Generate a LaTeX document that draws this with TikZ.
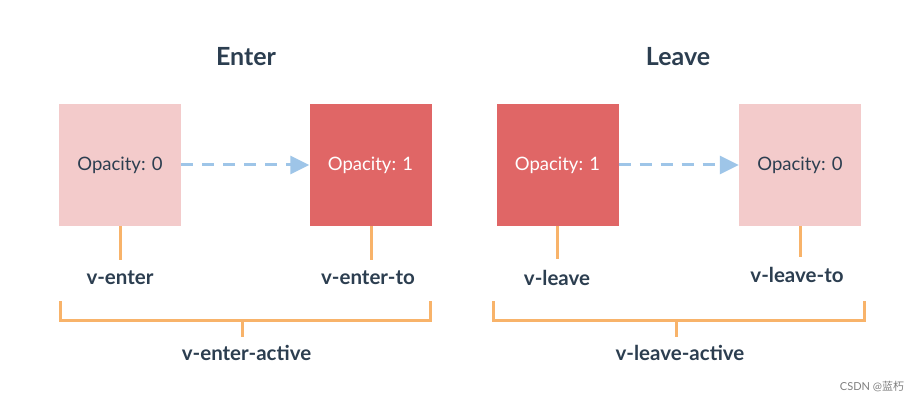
\documentclass[tikz,border=0pt]{standalone}
\usepackage{fontspec}
\setmainfont{Lato}
\newfontfamily\cjkfont{Noto Sans CJK SC}
\usetikzlibrary{arrows.meta}
\definecolor{txt}{HTML}{2C3E50}
\definecolor{pale}{HTML}{F3CBCB}
\definecolor{deep}{HTML}{E06666}
\definecolor{brk}{HTML}{F8B36A}
\definecolor{arr}{HTML}{9EC5E8}
\tikzset{
  box/.style={minimum width=122pt,minimum height=122pt,inner sep=0pt,font=\fontsize{18.5}{20}\selectfont},
  palebox/.style={box,fill=pale,text=txt},
  deepbox/.style={box,fill=deep,text=white},
  lbl/.style={font=\bfseries\fontsize{20.5}{22}\selectfont,text=txt,inner sep=0pt},
  ttl/.style={font=\bfseries\fontsize{25}{28}\selectfont,text=txt,inner sep=0pt},
  tick/.style={draw=brk,line width=3pt},
  flow/.style={draw=arr,line width=3pt,dash pattern=on 12pt off 9pt,-{Triangle[length=19pt,width=18pt]}}
}
\begin{document}
\begin{tikzpicture}[x=1pt,y=-1pt]
\useasboundingbox[fill=white] (0,0) rectangle (922,403);
\node[ttl] (tenter) at (246,57) {Enter};
\node[ttl] (tleave) at (678,57) {Leave};
\node[palebox] (b1) at (120,165) {Opacity: 0};
\node[deepbox] (b2) at (370.5,165) {Opacity: 1};
\node[deepbox] (b3) at (557.5,165) {Opacity: 1};
\node[palebox] (b4) at (800,165) {Opacity: 0};
\draw[flow] (b1.east) -- (b2.west);
\draw[flow] (b3.east) -- (b4.west);
\coordinate (t1) at (120,260.5);
\coordinate (t2) at (371.5,260.5);
\coordinate (t3) at (557.5,259);
\coordinate (t4) at (800,257);
\draw[tick] (b1.south) -- (t1);
\draw[tick] (b2.south -| t2) -- (t2);
\draw[tick] (b3.south) -- (t3);
\draw[tick] (b4.south) -- (t4);
\node[lbl] (l1) at (120,278) {v-enter};
\node[lbl] (l2) at (368,278) {v-enter-to};
\node[lbl] (l3) at (557,278) {v-leave};
\node[lbl] (l4) at (797,275) {v-leave-to};
\coordinate (ea) at (60,301.5);
\coordinate (eb) at (430,301.5);
\coordinate (em) at (242,321);
\coordinate (emt) at (242,337);
\draw[tick] (ea) |- (em) -| (eb);
\draw[tick] (em) -- (emt);
\coordinate (la) at (493.5,301.5);
\coordinate (lb) at (864,301.5);
\coordinate (lm) at (676.5,321);
\coordinate (lmt) at (676.5,337);
\draw[tick] (la) |- (lm) -| (lb);
\draw[tick] (lm) -- (lmt);
\node[lbl] (a1) at (246.5,352.5) {v-enter-active};
\node[lbl] (a2) at (680,352.5) {v-leave-active};
\node[font=\fontsize{11}{13}\selectfont,text=black!50,inner sep=0pt] (wm) at (872,387) {CSDN @{\cjkfont 蓝朽}};
\end{tikzpicture}
\end{document}
